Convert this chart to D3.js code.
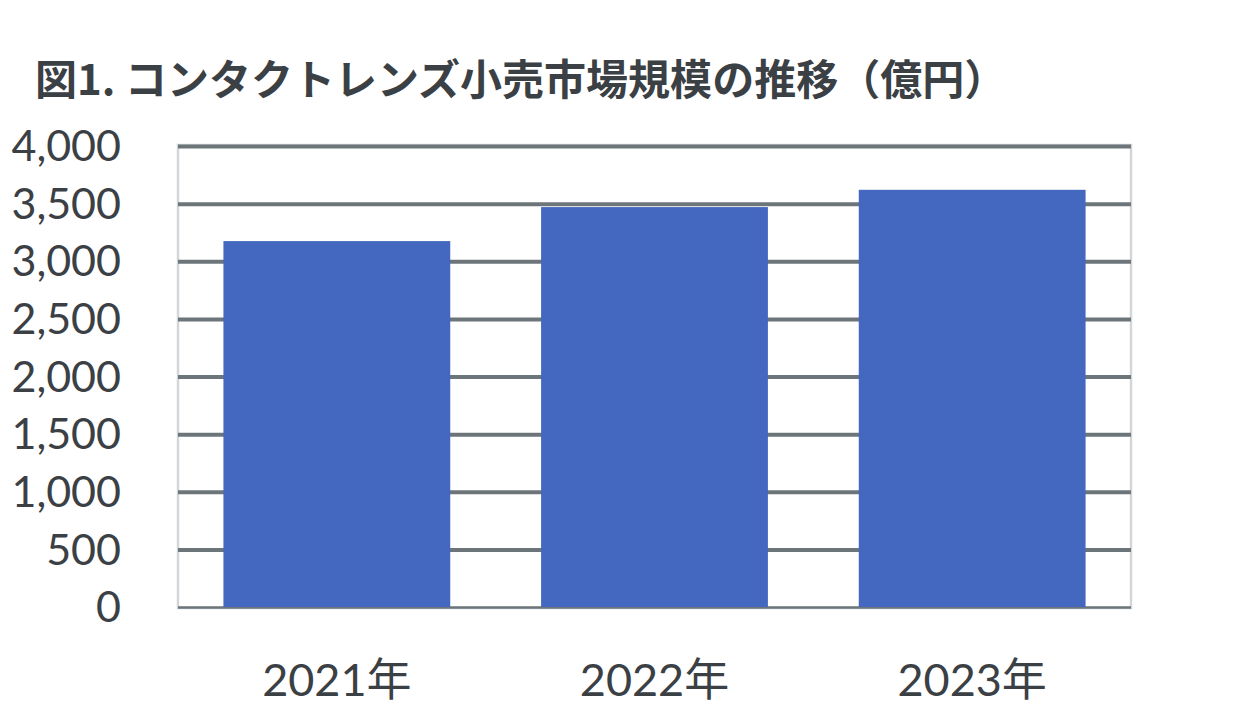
<!DOCTYPE html>
<html><head><meta charset="utf-8">
<script src="https://cdn.jsdelivr.net/npm/d3@7"></script>
<style>
body{margin:0;background:#fff;}
svg{display:block;}
</style></head>
<body>
<svg id="chart" width="1238" height="722"></svg>
<script>
const title = "図1. コンタクトレンズ小売市場規模の推移（億円）";
const categories = ["2021年", "2022年", "2023年"];
const values = [3175, 3470, 3620];
const yTicks = [0, 500, 1000, 1500, 2000, 2500, 3000, 3500, 4000];

const svg = d3.select("#chart");
const pLeft = 178, pRight = 1131, pTop = 146, pBottom = 607;
const textColor = "#3b4045";

const x = d3.scaleBand().domain(categories).range([pLeft, pRight]).paddingInner(0.286).paddingOuter(0.143);
const y = d3.scaleLinear().domain([0, 4000]).range([pBottom, pTop]);

// frame
svg.append("rect").attr("x", pLeft).attr("y", pTop - 1).attr("width", pRight - pLeft).attr("height", pBottom - pTop + 2)
  .attr("fill", "none").attr("stroke", "#d4d7d9").attr("stroke-width", 2.5);

// gridlines
const yAxis = d3.axisLeft(y).tickValues(yTicks).tickSize(-(pRight - pLeft)).tickFormat(d3.format(","));
const gy = svg.append("g").attr("transform", `translate(${pLeft},0)`).call(yAxis);
gy.select(".domain").remove();
gy.selectAll(".tick line").attr("stroke", "#6c757a").attr("stroke-width", d => d === 0 ? 2.5 : 4);
gy.selectAll(".tick text").attr("x", -57).attr("dy", "0.34em").attr("fill", textColor)
  .style("font-family", "Lato, 'Noto Sans', sans-serif").style("font-size", "43px");

// bars
svg.append("g").selectAll("rect").data(values).join("rect")
  .attr("x", (d, i) => x(categories[i]))
  .attr("y", d => y(d))
  .attr("width", x.bandwidth())
  .attr("height", d => y(0) - y(d))
  .attr("fill", "#4468bf");

// x axis
const xAxis = d3.axisBottom(x).tickSize(0);
const gx = svg.append("g").attr("transform", `translate(0,${pBottom})`).call(xAxis);
gx.select(".domain").remove();
gx.selectAll(".tick text").attr("y", 0).attr("dy", "0").attr("transform", "translate(0,89)")
  .attr("fill", textColor)
  .style("font-family", "Lato, 'Noto Sans CJK JP', sans-serif").style("font-size", "45px");

// title
svg.append("text").attr("x", 35).attr("y", 95).text(title)
  .attr("fill", textColor)
  .style("font-family", "'Noto Sans CJK JP', sans-serif").style("font-weight", "bold").style("font-size", "42px");
</script>
</body></html>
